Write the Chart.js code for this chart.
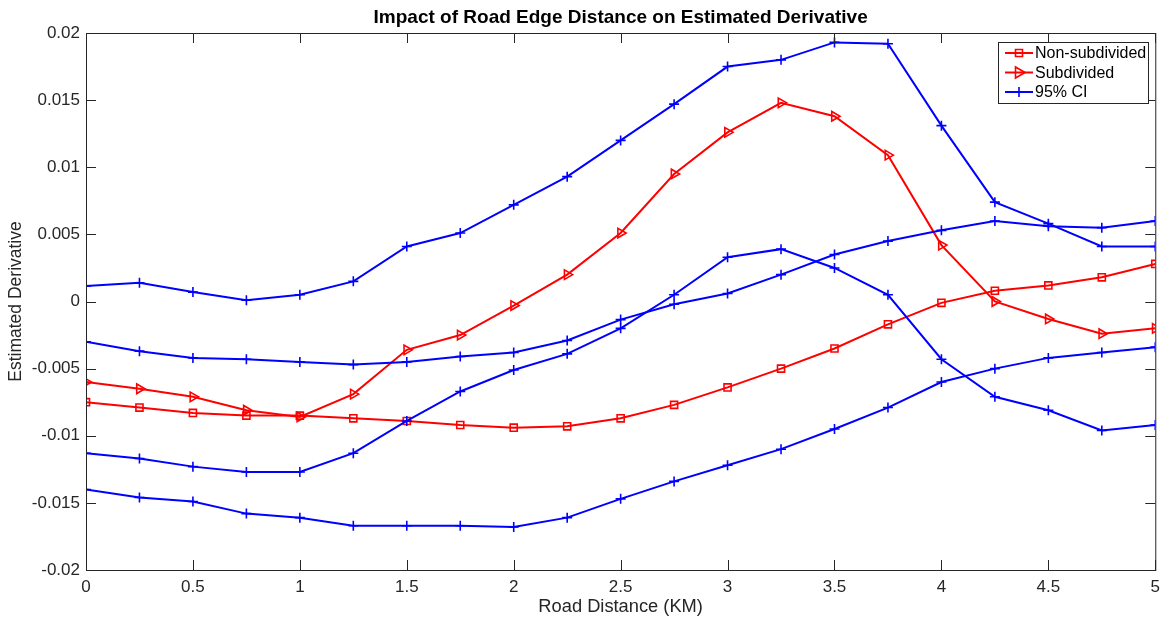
<!DOCTYPE html>
<html>
<head>
<meta charset="utf-8">
<script src="https://cdn.jsdelivr.net/npm/chart.js@4"></script>
<style>
body{margin:0;background:#fff}
</style>
</head>
<body>
<canvas id="chart" width="1167" height="619"></canvas>
<script>
// data
var distances = [0,0.25,0.5,0.75,1,1.25,1.5,1.75,2,2.25,2.5,2.75,3,3.25,3.5,3.75,4,4.25,4.5,4.75,5];
var nonSubdivided = [-0.0075,-0.0079,-0.0083,-0.0085,-0.0085,-0.0087,-0.0089,-0.0092,-0.0094,-0.0093,-0.0087,-0.0077,-0.0064,-0.0050,-0.0035,-0.0017,-0.0001,0.0008,0.0012,0.0018,0.0028];
var subdivided = [-0.0060,-0.0065,-0.0071,-0.0081,-0.0086,-0.0069,-0.0036,-0.0025,-0.0003,0.0020,0.0051,0.0095,0.0126,0.0148,0.0138,0.0109,0.0042,0.0000,-0.0013,-0.0024,-0.0020];
var ciSubUpper = [0.00115,0.0014,0.0007,0.0001,0.0005,0.0015,0.0041,0.0051,0.0072,0.0093,0.0120,0.0147,0.0175,0.0180,0.0193,0.0192,0.0131,0.0074,0.0058,0.0041,0.0041];
var ciSubLower = [-0.0113,-0.0117,-0.0123,-0.0127,-0.0127,-0.0113,-0.0089,-0.0067,-0.0051,-0.0039,-0.0020,0.0005,0.0033,0.0039,0.0025,0.0005,-0.0043,-0.0071,-0.0081,-0.0096,-0.0092];
var ciNonUpper = [-0.0030,-0.0037,-0.0042,-0.0043,-0.0045,-0.0047,-0.0045,-0.0041,-0.0038,-0.0029,-0.00135,-0.0002,0.0006,0.0020,0.0035,0.0045,0.0053,0.0060,0.0056,0.0055,0.0060];
var ciNonLower = [-0.0140,-0.0146,-0.0149,-0.0158,-0.0161,-0.0167,-0.0167,-0.0167,-0.0168,-0.0161,-0.0147,-0.0134,-0.0122,-0.0110,-0.0095,-0.0079,-0.0060,-0.0050,-0.0042,-0.0038,-0.0034];

var titleText = "Impact of Road Edge Distance on Estimated Derivative";
var xLabel = "Road Distance (KM)";
var yLabel = "Estimated Derivative";
var xMin = 0, xMax = 5, xStep = 0.5;
var yMin = -0.02, yMax = 0.02, yStep = 0.005;

var RED = "rgb(255,0,0)";
var BLUE = "rgb(0,0,255)";
var AXIS = "#262626";
var FONT = "Liberation Sans, Arial, Helvetica, sans-serif";

function pts(arr){
  return arr.map(function(v,i){ return {x: distances[i], y: v}; });
}

function lineSet(label, arr, color, style, radius, rot, inLegend, order){
  return {
    label: label,
    data: pts(arr),
    borderColor: color,
    backgroundColor: "rgba(0,0,0,0)",
    borderWidth: 2,
    pointStyle: style,
    pointRadius: radius,
    pointRotation: rot,
    pointBorderColor: color,
    pointBackgroundColor: "rgba(0,0,0,0)",
    pointBorderWidth: 1.6,
    tension: 0,
    showInLegend: inLegend,
    order: order
  };
}

var datasets = [
  lineSet("Non-subdivided", nonSubdivided, RED, "rect", 5, 0, true, 1),
  lineSet("Subdivided", subdivided, RED, "triangle", 5.5, 90, true, 1),
  lineSet("95% CI", ciSubUpper, BLUE, "cross", 5, 0, true, 0),
  lineSet("95% CI", ciSubLower, BLUE, "cross", 5, 0, false, 0),
  lineSet("95% CI", ciNonUpper, BLUE, "cross", 5, 0, false, 0),
  lineSet("95% CI", ciNonLower, BLUE, "cross", 5, 0, false, 0)
];

function fmt(v){ return String(+Number(v).toFixed(4)); }

// small marker drawing for the legend box
function marker(ctx, style, x, y, color){
  ctx.save();
  ctx.strokeStyle = color;
  ctx.lineWidth = 1.6;
  ctx.beginPath();
  if(style == "rect"){
    ctx.rect(x-3.5, y-3.5, 7, 7);
  } else if(style == "triangle"){
    ctx.moveTo(x+6, y);
    ctx.lineTo(x-3.5, y-5.5);
    ctx.lineTo(x-3.5, y+5.5);
    ctx.closePath();
  } else {
    ctx.moveTo(x-5, y); ctx.lineTo(x+5, y);
    ctx.moveTo(x, y-5); ctx.lineTo(x, y+5);
  }
  ctx.stroke();
  ctx.restore();
}

var matlabFrame = {
  id: "matlabFrame",
  afterDraw: function(chart){
    var ctx = chart.ctx, a = chart.chartArea;
    var xs = chart.scales.x, ys = chart.scales.y;
    ctx.save();
    // box
    ctx.strokeStyle = AXIS;
    ctx.lineWidth = 1;
    ctx.strokeRect(a.left+0.5, a.top+0.5, a.right-a.left, a.bottom-a.top);
    // inner ticks on all sides
    ctx.beginPath();
    xs.ticks.forEach(function(t){
      var px = Math.round(xs.getPixelForValue(t.value))+0.5;
      ctx.moveTo(px, a.bottom); ctx.lineTo(px, a.bottom-10);
      ctx.moveTo(px, a.top); ctx.lineTo(px, a.top+10);
    });
    ys.ticks.forEach(function(t){
      var py = Math.round(ys.getPixelForValue(t.value))+0.5;
      ctx.moveTo(a.left, py); ctx.lineTo(a.left+10, py);
      ctx.moveTo(a.right, py); ctx.lineTo(a.right-10, py);
    });
    ctx.stroke();
    // title
    ctx.fillStyle = "#000";
    ctx.font = "bold 19px " + FONT;
    ctx.textAlign = "center";
    ctx.textBaseline = "middle";
    ctx.fillText(titleText, (a.left+a.right)/2, 18);
    // legend
    var items = chart.data.datasets.filter(function(d){ return d.showInLegend; });
    var bx = 998, by = 42, bw = 150, bh = 61;
    ctx.fillStyle = "#fff";
    ctx.fillRect(bx, by, bw, bh);
    ctx.strokeStyle = AXIS;
    ctx.lineWidth = 1;
    ctx.strokeRect(bx+0.5, by+0.5, bw, bh);
    ctx.font = "16px " + FONT;
    ctx.textAlign = "left";
    items.forEach(function(d, i){
      var cy = by + 11 + i*19.5;
      ctx.strokeStyle = d.borderColor;
      ctx.lineWidth = 2;
      ctx.beginPath();
      ctx.moveTo(bx+7, cy); ctx.lineTo(bx+35, cy);
      ctx.stroke();
      marker(ctx, d.pointStyle, bx+21, cy, d.borderColor);
      ctx.fillStyle = "#000";
      ctx.fillText(d.label, bx+37, cy+1);
    });
    ctx.restore();
  }
};

new Chart(document.getElementById("chart"), {
  type: "line",
  data: { datasets: datasets },
  options: {
    responsive: false,
    animation: false,
    devicePixelRatio: 1,
    layout: { padding: { top: 33, right: 9, left: 0, bottom: 0 } },
    plugins: {
      legend: { display: false },
      title: { display: false },
      tooltip: { enabled: false }
    },
    scales: {
      x: {
        type: "linear",
        min: xMin, max: xMax,
        grid: { display: false, drawTicks: false },
        border: { display: false },
        afterFit: function(s){ s.height = 49; },
        ticks: {
          stepSize: xStep,
          padding: 7,
          color: AXIS,
          font: { family: FONT, size: 17 },
          maxRotation: 0,
          callback: function(v){ return fmt(v); }
        },
        title: {
          display: true, text: xLabel, color: AXIS,
          font: { family: FONT, size: 18.3 },
          padding: { top: 0, bottom: 1 }
        }
      },
      y: {
        min: yMin, max: yMax,
        grid: { display: false, drawTicks: false },
        border: { display: false },
        afterFit: function(s){ s.width = 86; },
        ticks: {
          stepSize: yStep,
          padding: 6,
          color: AXIS,
          font: { family: FONT, size: 17 },
          callback: function(v){ return fmt(v); }
        },
        title: {
          display: true, text: yLabel, color: AXIS,
          font: { family: FONT, size: 17.5 },
          padding: { top: 6, bottom: 0 }
        }
      }
    }
  },
  plugins: [matlabFrame]
});
</script>
</body>
</html>
